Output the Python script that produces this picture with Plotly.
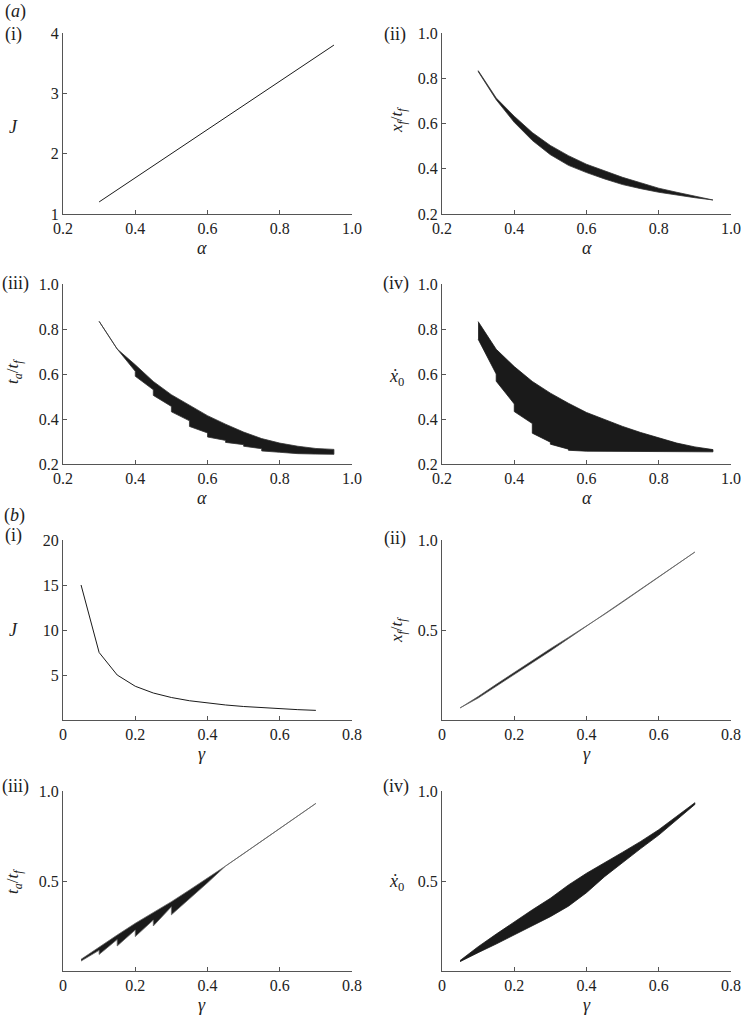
import plotly.graph_objects as go

# ---- data ----
alpha = [0.30, 0.35, 0.40, 0.45, 0.50, 0.55, 0.60, 0.65, 0.70, 0.75, 0.80, 0.85, 0.90, 0.95]
gamma = [0.05, 0.10, 0.15, 0.20, 0.25, 0.30, 0.35, 0.40, 0.45, 0.50, 0.55, 0.60, 0.65, 0.70]

# (a)(i) cost J vs alpha
J_a = [1.20, 1.40, 1.60, 1.80, 2.00, 2.20, 2.40, 2.60, 2.80, 3.00, 3.20, 3.40, 3.60, 3.80]

# (a)(ii) x_f/t_f band
xf_a_upper = [0.834, 0.713, 0.632, 0.560, 0.503, 0.458, 0.420, 0.390, 0.362, 0.338, 0.314, 0.296, 0.280, 0.264]
xf_a_lower = [0.830, 0.705, 0.605, 0.525, 0.462, 0.415, 0.383, 0.355, 0.330, 0.312, 0.296, 0.283, 0.272, 0.262]

# (a)(iii) t_a/t_f band (lower edge is stepped)
ta_a_upper = [0.834, 0.711, 0.641, 0.567, 0.508, 0.461, 0.415, 0.377, 0.342, 0.313, 0.293, 0.279, 0.269, 0.265]
ta_a_lower_x = [0.30, 0.35, 0.40, 0.40, 0.45, 0.45, 0.50, 0.50, 0.55, 0.55, 0.60, 0.60,
                0.65, 0.65, 0.70, 0.70, 0.75, 0.75, 0.80, 0.85, 0.90, 0.95]
ta_a_lower = [0.834, 0.711, 0.612, 0.590, 0.530, 0.505, 0.456, 0.432, 0.392, 0.367, 0.338, 0.320,
              0.305, 0.296, 0.286, 0.279, 0.268, 0.258, 0.252, 0.246, 0.244, 0.243]

# (a)(iv) x0-dot band
v0_a_upper = [0.833, 0.710, 0.633, 0.567, 0.515, 0.470, 0.429, 0.397, 0.367, 0.340, 0.315, 0.293, 0.276, 0.264]
v0_a_lower_x = [0.30, 0.35, 0.35, 0.40, 0.40, 0.45, 0.45, 0.50, 0.50, 0.55, 0.55, 0.60, 0.70, 0.80, 0.95]
v0_a_lower = [0.755, 0.600, 0.568, 0.467, 0.433, 0.380, 0.337, 0.297, 0.288, 0.266, 0.261, 0.257, 0.256, 0.255, 0.254]

# (b)(i) cost J vs gamma
J_b = [15.0, 7.50, 5.00, 3.75, 3.00, 2.50, 2.14, 1.88, 1.67, 1.50, 1.36, 1.25, 1.15, 1.07]

# (b)(ii) x_f/t_f band
xf_b_upper = [0.067, 0.130, 0.198, 0.265, 0.332, 0.396, 0.459, 0.522, 0.587, 0.655, 0.724, 0.794, 0.865, 0.933]
xf_b_lower = [0.067, 0.122, 0.186, 0.252, 0.318, 0.384, 0.450, 0.518, 0.587, 0.655, 0.724, 0.794, 0.865, 0.933]

# (b)(iii) t_a/t_f band (lower edge is saw-toothed)
ta_b_upper = [0.065, 0.135, 0.200, 0.265, 0.325, 0.385, 0.450, 0.515, 0.583, 0.652, 0.722, 0.792, 0.862, 0.931]
ta_b_lower_x = [0.05, 0.10, 0.10, 0.15, 0.15, 0.20, 0.20, 0.25, 0.25, 0.30, 0.30,
                0.35, 0.40, 0.45, 0.50, 0.55, 0.60, 0.65, 0.70]
ta_b_lower = [0.055, 0.115, 0.092, 0.175, 0.139, 0.228, 0.191, 0.283, 0.250, 0.357, 0.312,
              0.400, 0.490, 0.583, 0.652, 0.722, 0.792, 0.862, 0.931]

# (b)(iv) x0-dot band
v0_b_upper = [0.058, 0.135, 0.205, 0.274, 0.340, 0.404, 0.478, 0.543, 0.600, 0.660, 0.720, 0.785, 0.860, 0.935]
v0_b_lower = [0.052, 0.102, 0.150, 0.200, 0.250, 0.302, 0.360, 0.435, 0.524, 0.600, 0.680, 0.755, 0.840, 0.925]

FONT = 'Liberation Serif, Times New Roman, Times, serif'
INK = '#1a1a1a'
AX = '#555555'


def band(xu, yu, xl, yl, axis, edge=INK):
    return go.Scatter(x=list(xu) + list(xl)[::-1], y=list(yu) + list(yl)[::-1],
                      mode='lines', fill='toself', fillcolor=INK,
                      line=dict(color=edge, width=0.8),
                      xaxis='x' + axis, yaxis='y' + axis, showlegend=False,
                      hoverinfo='skip')


fig = go.Figure()
fig.add_trace(go.Scatter(x=alpha, y=J_a, mode='lines', line=dict(color=INK, width=1),
                         xaxis='x', yaxis='y', showlegend=False))
fig.add_trace(band(alpha, xf_a_upper, alpha, xf_a_lower, '2', '#333333'))
fig.add_trace(band(alpha, ta_a_upper, ta_a_lower_x, ta_a_lower, '3', '#333333'))
fig.add_trace(band(alpha, v0_a_upper, v0_a_lower_x, v0_a_lower, '4'))
fig.add_trace(go.Scatter(x=gamma, y=J_b, mode='lines', line=dict(color=INK, width=1),
                         xaxis='x5', yaxis='y5', showlegend=False))
fig.add_trace(band(gamma, xf_b_upper, gamma, xf_b_lower, '6', '#666666'))
fig.add_trace(band(gamma, ta_b_upper, ta_b_lower_x, ta_b_lower, '7', '#666666'))
fig.add_trace(band(gamma, v0_b_upper, gamma, v0_b_lower, '8'))

W = 741.0
H = 1016.0
cols = [(63, 352), (442, 731)]
rows = [(33, 214), (284, 464), (540, 720), (791, 971)]

base = dict(showline=True, linecolor=AX, linewidth=1, ticks='inside', ticklen=4,
            tickcolor=AX, showgrid=False, zeroline=False, mirror=False, automargin=False,
            ticklabeloverflow='allow',
            tickfont=dict(family=FONT, size=16, color='#222'))

ax_a = dict(range=[0.2, 1.0], tickvals=[0.2, 0.4, 0.6, 0.8, 1.0],
            ticktext=['0.2', '0.4', '0.6', '0.8', '1.0'])
ax_b = dict(range=[0, 0.8], tickvals=[0, 0.2, 0.4, 0.6, 0.8],
            ticktext=['0', '0.2', '0.4', '0.6', '0.8'])
ay_a1 = dict(range=[1, 4], tickvals=[1, 2, 3, 4])
ay_a = dict(range=[0.2, 1.0], tickvals=[0.2, 0.4, 0.6, 0.8, 1.0],
            ticktext=['0.2', '0.4', '0.6', '0.8', '1.0'])
ay_b1 = dict(range=[0, 20], tickvals=[5, 10, 15, 20])
ay_b = dict(range=[0, 1.0], tickvals=[0.5, 1.0], ticktext=['0.5', '1.0'])

specs = [(ax_a, ay_a1), (ax_a, ay_a), (ax_a, ay_a), (ax_a, ay_a),
         (ax_b, ay_b1), (ax_b, ay_b), (ax_b, ay_b), (ax_b, ay_b)]

layout = dict(width=W, height=H, margin=dict(l=0, r=0, t=0, b=0),
              template='none', font=dict(family=FONT, size=17, color='#222'),
              paper_bgcolor='white', plot_bgcolor='white', showlegend=False)
for i, (xs, ys) in enumerate(specs):
    n = '' if i == 0 else str(i + 1)
    c = cols[i % 2]
    r = rows[i // 2]
    layout['xaxis' + n] = dict(base, domain=[c[0] / W, c[1] / W], anchor='y' + n, **xs)
    layout['yaxis' + n] = dict(base, domain=[1 - r[1] / H, 1 - r[0] / H], anchor='x' + n, **ys)
fig.update_layout(**layout)


def note(text, x, y, angle=0, size=18):
    fig.add_annotation(text=text, x=x / W, y=1 - y / H,
                       xref='paper', yref='paper', xanchor='center', yanchor='middle',
                       showarrow=False, textangle=angle,
                       font=dict(family=FONT, size=size, color='#222'))


# panel labels
note('(<i>a</i>)', 15, 12)
note('(i)', 13, 34)
note('(ii)', 395, 34)
note('(iii)', 15, 284)
note('(iv)', 396, 284)
note('(<i>b</i>)', 14, 515)
note('(i)', 13, 535)
note('(ii)', 395, 538)
note('(iii)', 15, 786)
note('(iv)', 396, 786)

# axis titles
for top, bottom in rows:
    sym = '<i>α</i>' if top < 500 else '<i>γ</i>'
    note(sym, 202, bottom + 34)
    note(sym, 587, bottom + 34)
note('<i>J</i>', 13, 127)
note('<i>x<sub>f</sub></i>/<i>t<sub>f</sub></i>', 398, 120, angle=-90, size=17)
note('<i>t<sub>a</sub></i>/<i>t<sub>f</sub></i>', 14, 372, angle=-90, size=17)
note('<i>ẋ</i><sub>0</sub>', 397, 377)
note('<i>J</i>', 13, 630)
note('<i>x<sub>f</sub></i>/<i>t<sub>f</sub></i>', 398, 630, angle=-90, size=17)
note('<i>t<sub>a</sub></i>/<i>t<sub>f</sub></i>', 14, 882, angle=-90, size=17)
note('<i>ẋ</i><sub>0</sub>', 397, 882)

# drop the browser's default body margin so the figure fills the window
fig.write_html('out.html', config={'displayModeBar': False},
               post_script="document.body.style.margin='0';")
